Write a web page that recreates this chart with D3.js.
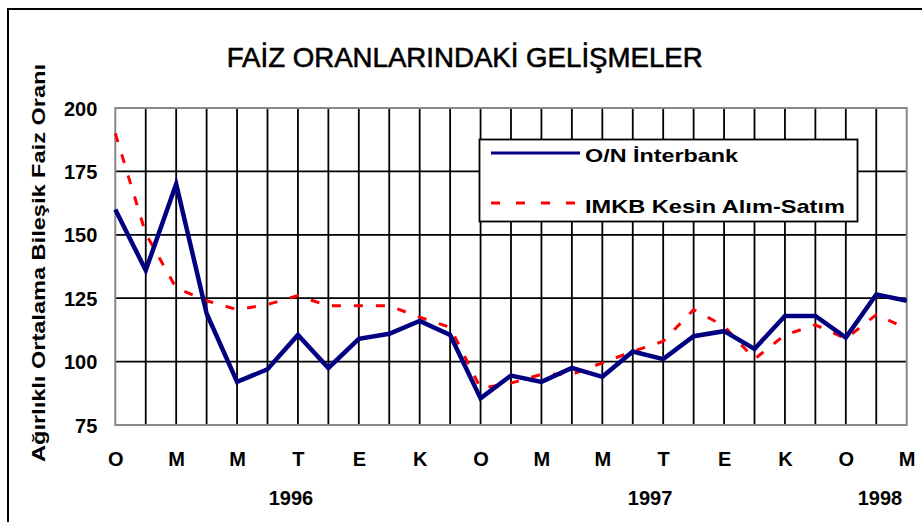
<!DOCTYPE html>
<html>
<head>
<meta charset="utf-8">
<script src="https://cdn.jsdelivr.net/npm/d3@7"></script>
<style>
  html, body { margin: 0; padding: 0; background: #fff; }
  svg { display: block; }
</style>
</head>
<body>
<script>
// ---- data ----
const monthIndex = d3.range(27); // Jan 1996 .. Mar 1998
const onInterbank = [160,136,170,119,92,97,110.5,97.5,109,111,116,110.5,85.5,94.5,92,97.5,94,104,101,110,112,105,118,118,109.5,126.5,124];
const imkb = [190,150.5,129,124,120.5,122.5,126,122,122,122,117.5,113.5,89.5,91.5,95,95,99.5,104,108,120.5,114,101,110.5,114.5,109,118.5,113];
const tickLabels = ["O","M","M","T","E","K","O","M","M","T","E","K","O","M"];
const tickIndex = [0,2,4,6,8,10,12,14,16,18,20,22,24,26];
const yearLabels = ["1996","1997","1998"];
const yearPos = [5.77,17.57,25.12];
const yTicks = [75,100,125,150,175,200];
const seriesNames = ["O/N İnterbank","IMKB Kesin Alım-Satım"];
const legendTextWidths = [153, 260];

(function () {
const W = 922, H = 522;
const svg = d3.select("body").append("svg").attr("width", W).attr("height", H);
const FONT = "'Liberation Sans',Arial,sans-serif";

const pL = 115.3, pR = 906.7, pT = 108, pB = 425;
const x = d3.scaleLinear().domain([0, 26]).range([pL, pR]);
const y = d3.scaleLinear().domain([75, 200]).range([pB, pT]);

// outer frame
svg.append("rect").attr("x", 8).attr("y", 9).attr("width", 1000).attr("height", 1000)
  .attr("fill", "#fff").attr("stroke", "#000").attr("stroke-width", 2);

// title
svg.append("text").attr("x", 464.7).attr("y", 67)
  .attr("text-anchor", "middle")
  .attr("font-family", "'Liberation Sans Narrow','Arial Narrow','Liberation Sans',Arial,sans-serif")
  .attr("font-size", 28).attr("fill", "#000")
  .attr("stroke", "#000").attr("stroke-width", 0.6)
  .attr("textLength", 476).attr("lengthAdjust", "spacingAndGlyphs")
  .text("FAİZ ORANLARINDAKİ GELİŞMELER");

// plot background
svg.append("rect").attr("x", pL).attr("y", pT).attr("width", pR - pL).attr("height", pB - pT)
  .attr("fill", "#fff");

// vertical grid
svg.append("g").selectAll("line").data(monthIndex.slice(1, -1)).join("line")
  .attr("x1", d => x(d)).attr("x2", d => x(d)).attr("y1", pT).attr("y2", pB)
  .attr("stroke", "#000").attr("stroke-width", 1.8);
// horizontal grid
svg.append("g").selectAll("line").data(yTicks.slice(1, -1)).join("line")
  .attr("x1", pL).attr("x2", pR).attr("y1", d => y(d)).attr("y2", d => y(d))
  .attr("stroke", "#000").attr("stroke-width", 1.8);
// plot border
svg.append("rect").attr("x", pL).attr("y", pT).attr("width", pR - pL).attr("height", pB - pT)
  .attr("fill", "none").attr("stroke", "#888").attr("stroke-width", 2);

// y axis
const yAxis = d3.axisLeft(y).tickValues(yTicks).tickSize(0).tickPadding(0);
const gy = svg.append("g").attr("transform", `translate(${pL - 18},0)`).call(yAxis);
gy.select(".domain").remove();
gy.selectAll("text").attr("font-family", FONT)
  .attr("font-weight", "bold").attr("font-size", 20).attr("fill", "#000").attr("dy", "0.35em");

// x axis labels
const xAxis = d3.axisBottom(x).tickValues(tickIndex).tickFormat((d, i) => tickLabels[i]).tickSize(0).tickPadding(0);
const gx = svg.append("g").attr("transform", `translate(0,${pB + 34})`).call(xAxis);
gx.select(".domain").remove();
gx.selectAll("text").attr("font-family", FONT)
  .attr("font-weight", "bold").attr("font-size", 20).attr("fill", "#000").attr("dy", "0.35em");

// year labels
svg.append("g").selectAll("text").data(yearLabels).join("text")
  .attr("x", (d, i) => x(yearPos[i])).attr("y", 498).attr("dy", "0.35em")
  .attr("text-anchor", "middle")
  .attr("font-family", FONT)
  .attr("font-weight", "bold").attr("font-size", 20).attr("fill", "#000")
  .text(d => d);

// y axis title
svg.append("text").attr("transform", "translate(45,263) rotate(-90)")
  .attr("text-anchor", "middle")
  .attr("font-family", FONT)
  .attr("font-weight", "bold").attr("font-size", 18).attr("fill", "#000")
  .attr("textLength", 398).attr("lengthAdjust", "spacingAndGlyphs")
  .text("Ağırlıklı Ortalama Bileşik Faiz Oranı");

// lines
const line = d3.line().x((d, i) => x(monthIndex[i])).y(d => y(d));
svg.append("path").datum(imkb).attr("d", line)
  .attr("fill", "none").attr("stroke", "#ff0000").attr("stroke-width", 3)
  .attr("stroke-dasharray", "9,13");
svg.append("path").datum(onInterbank).attr("d", line)
  .attr("fill", "none").attr("stroke", "#000080").attr("stroke-width", 4.5)
  .attr("stroke-linejoin", "miter");

// legend
const lg = svg.append("g");
lg.append("rect").attr("x", 479.5).attr("y", 139.5).attr("width", 378).attr("height", 82)
  .attr("fill", "#fff").attr("stroke", "#000").attr("stroke-width", 1.8);
lg.append("line").attr("x1", 491).attr("x2", 580).attr("y1", 153).attr("y2", 153)
  .attr("stroke", "#000080").attr("stroke-width", 3);
lg.append("line").attr("x1", 491).attr("x2", 580).attr("y1", 203).attr("y2", 203)
  .attr("stroke", "#ff0000").attr("stroke-width", 3).attr("stroke-dasharray", "9,16");
lg.selectAll("text").data(seriesNames).join("text")
  .attr("x", 585).attr("y", (d, i) => i === 0 ? 155 : 206).attr("dy", "0.35em")
  .attr("font-family", FONT)
  .attr("font-weight", "bold").attr("font-size", 19).attr("fill", "#000")
  .attr("textLength", (d, i) => legendTextWidths[i]).attr("lengthAdjust", "spacingAndGlyphs")
  .text(d => d);
})();
</script>
</body>
</html>
